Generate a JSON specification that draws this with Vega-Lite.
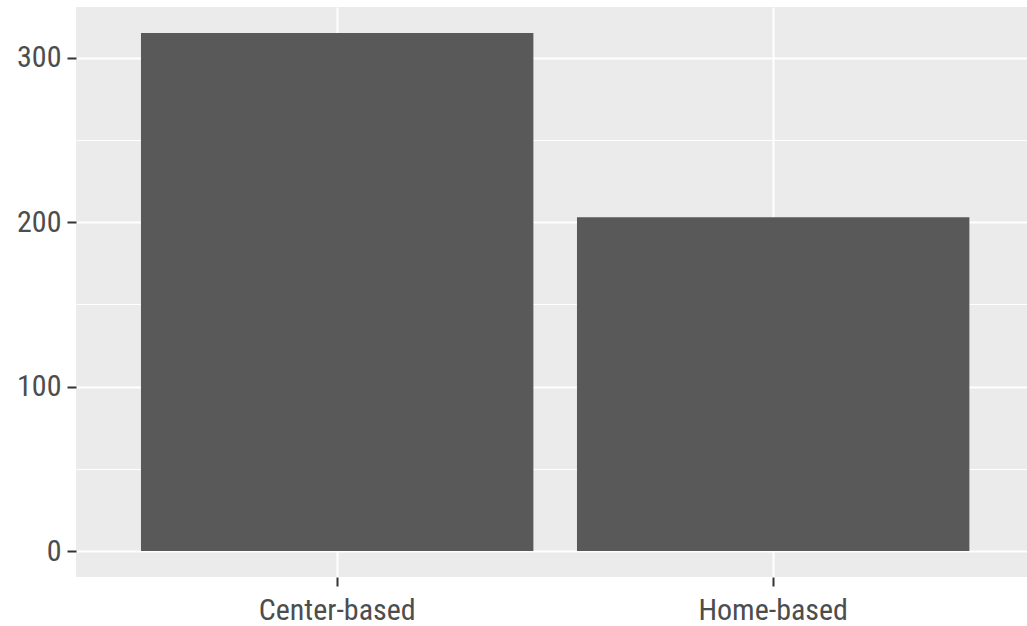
{
  "$schema": "https://vega.github.io/schema/vega-lite/v6.json",
  "autosize": {"type": "none"},
  "padding": {"left": 76, "top": 7, "right": 0, "bottom": 49},
  "width": 951,
  "height": 570,
  "background": "white",
  "config": {
    "view": {"fill": "#EBEBEB", "stroke": null},
    "axis": {
      "labelFont": "Liberation Sans Narrow, Roboto Condensed, Liberation Sans, Arial",
      "labelFontSize": 30,
      "labelColor": "#4D4D4D",
      "domain": false,
      "tickColor": "#333333",
      "tickWidth": 2,
      "tickSize": 9,
      "gridColor": "white",
      "title": null
    }
  },
  "data": {
    "values": [
      {"type": "Center-based", "count": 315},
      {"type": "Home-based", "count": 203}
    ]
  },
  "mark": {"type": "bar", "color": "#595959"},
  "encoding": {
    "x": {
      "field": "type",
      "type": "nominal",
      "sort": null,
      "scale": {"type": "band", "paddingInner": 0.1, "paddingOuter": 0.1406, "align": 0.53},
      "axis": {"labelAngle": 0, "grid": true, "gridWidth": 2, "bandPosition": 0.5, "labelPadding": 9}
    },
    "y": {
      "field": "count",
      "type": "quantitative",
      "scale": {"domain": [-15.75, 330.75], "nice": false, "zero": false},
      "axis": {
        "values": [0, 50, 100, 150, 200, 250, 300],
        "grid": true,
        "gridWidth": {"expr": "datum.value % 100 === 0 ? 2 : 1"},
        "tickOpacity": {"expr": "datum.value % 100 === 0 ? 1 : 0"},
        "labelExpr": "datum.value % 100 === 0 ? datum.label : ''",
        "labelPadding": 6
      }
    }
  }
}
